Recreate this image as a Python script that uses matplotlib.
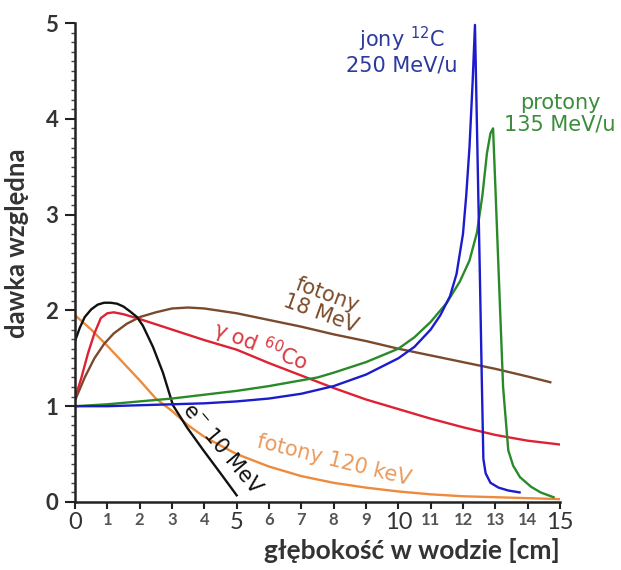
import matplotlib
matplotlib.use("Agg")
import matplotlib.pyplot as plt
from matplotlib.ticker import MultipleLocator, FixedLocator

# ---- data ----
carbon_x = [0, 1, 2, 3, 4, 5, 6, 7, 8, 9, 10, 10.5, 11, 11.3, 11.6, 11.8, 12.0, 12.1, 12.2,
            12.3, 12.37, 12.45, 12.52, 12.58, 12.63, 12.7, 12.85, 13.1, 13.4, 13.75]
carbon_y = [1.0, 1.0, 1.01, 1.02, 1.03, 1.05, 1.08, 1.13, 1.21, 1.33, 1.5, 1.62, 1.8, 1.95,
            2.15, 2.38, 2.8, 3.2, 3.7, 4.4, 4.98, 3.6, 2.4, 1.3, 0.45, 0.3, 0.2, 0.15, 0.12, 0.1]

proton_x = [0, 1, 2, 3, 4, 5, 6, 7, 7.5, 8, 9, 10, 10.5, 11, 11.5, 11.9, 12.2, 12.43, 12.6,
            12.74, 12.85, 12.93, 13.0, 13.1, 13.24, 13.4, 13.55, 13.76, 14.1, 14.4, 14.8]
proton_y = [1.0, 1.02, 1.05, 1.08, 1.12, 1.16, 1.21, 1.27, 1.3, 1.35, 1.46, 1.6, 1.72, 1.88,
            2.08, 2.3, 2.52, 2.81, 3.2, 3.64, 3.85, 3.9, 3.3, 2.42, 1.2, 0.54, 0.38, 0.26,
            0.16, 0.1, 0.05]

mv18_x = [0, 0.3, 0.6, 0.9, 1.2, 1.6, 2.0, 2.5, 3.0, 3.5, 4.0, 5.0, 6, 7, 8, 9, 10, 11, 12,
          13, 14, 14.7]
mv18_y = [1.06, 1.3, 1.5, 1.65, 1.76, 1.86, 1.93, 1.98, 2.02, 2.03, 2.02, 1.97, 1.9, 1.83,
          1.75, 1.68, 1.6, 1.53, 1.46, 1.39, 1.31, 1.25]

co60_x = [0, 0.2, 0.4, 0.6, 0.8, 1.0, 1.2, 1.5, 2.0, 3, 4, 5, 6, 7, 8, 9, 10, 11, 12, 13, 14, 15]
co60_y = [1.08, 1.3, 1.55, 1.76, 1.92, 1.97, 1.98, 1.96, 1.91, 1.8, 1.69, 1.59, 1.45, 1.32,
          1.19, 1.07, 0.97, 0.87, 0.78, 0.7, 0.64, 0.6]

elec_x = [0, 0.15, 0.3, 0.5, 0.7, 0.9, 1.1, 1.3, 1.5, 1.7, 1.92, 2.1, 2.41, 2.72, 3.03,
          3.46, 3.97, 4.5, 5.0]
elec_y = [1.68, 1.82, 1.93, 2.01, 2.06, 2.08, 2.08, 2.07, 2.04, 1.99, 1.93, 1.84, 1.62, 1.35,
          1.01, 0.78, 0.54, 0.3, 0.07]

kev120_x = [0, 0.5, 1, 1.5, 2, 2.5, 3, 3.5, 4, 5, 6, 7, 8, 9, 10, 11, 12, 13, 14, 15]
kev120_y = [1.95, 1.8, 1.63, 1.45, 1.27, 1.08, 0.95, 0.8, 0.68, 0.5, 0.37, 0.27, 0.2, 0.15,
            0.11, 0.08, 0.06, 0.05, 0.04, 0.03]

x_ticks = list(range(0, 16))
y_ticks = [0, 1, 2, 3, 4, 5]

# ---- figure ----
fig = plt.figure(figsize=(6.21, 5.70), dpi=100)
ax = fig.add_axes([75 / 621, 68 / 570, 485 / 621, 479 / 570])

lw = 1.7
ax.plot(kev120_x, kev120_y, color="#ee8a3c", lw=lw)
ax.plot(mv18_x, mv18_y, color="#7a4a2c", lw=lw)
ax.plot(co60_x, co60_y, color="#dd2233", lw=lw)
ax.plot(elec_x, elec_y, color="#111111", lw=lw)
ax.plot(proton_x, proton_y, color="#2a8a2a", lw=lw)
ax.plot(carbon_x, carbon_y, color="#1c1ccc", lw=lw)

ax.set_xlim(0, 15)
ax.set_ylim(0, 5)

for s in ["top", "right"]:
    ax.spines[s].set_visible(False)
for s in ["left", "bottom"]:
    ax.spines[s].set_linewidth(1.8)
    ax.spines[s].set_color("#222222")
ax.spines["left"].set_zorder(5)
ax.spines["bottom"].set_zorder(5)

# ticks
ax.yaxis.set_major_locator(FixedLocator(y_ticks))
ax.yaxis.set_minor_locator(MultipleLocator(0.1))
ax.xaxis.set_major_locator(FixedLocator(x_ticks))
ax.tick_params(axis="y", which="major", length=7, width=1.5, color="#222222", pad=5)
ax.tick_params(axis="y", which="minor", length=3, width=1.0, color="#444444")
ax.tick_params(axis="x", which="major", length=5, width=1.5, color="#222222", pad=2)

ax.set_yticklabels([str(v) for v in y_ticks], fontsize=16, fontweight="bold",
                   color="#333333", family="Lato")
xlabels = ax.set_xticklabels([str(v) for v in x_ticks], family="Lato", color="#333333")
for v, t in zip(x_ticks, xlabels):
    if v % 5 == 0:
        t.set_fontsize(17)
    else:
        t.set_fontsize(12)
        t.set_fontweight("bold")
        t.set_color("#555555")

ax.set_ylabel("dawka względna", fontsize=18.5, fontweight="bold", color="#333333",
              family="Lato")
ax.yaxis.set_label_coords(-0.095, 0.54)
ax.set_xlabel("głębokość w wodzie [cm]", fontsize=19, fontweight="bold", color="#333333",
              family="Lato", loc="right")
ax.xaxis.set_label_coords(1.0, -0.075)

# annotations
fs = 15
ax.text(10.1, 4.72, "jony $^{12}$C\n250 MeV/u", color="#2b3a9e", fontsize=fs,
        ha="center", va="center", linespacing=1.1)
ax.text(15.0, 4.05, "protony\n135 MeV/u", color="#3b8c3b", fontsize=fs,
        ha="center", va="center", linespacing=1.1, clip_on=False)
ax.text(7.7, 2.06, "fotony\n18 MeV", color="#7b4b2a", fontsize=fs, ha="center",
        va="center", rotation=-20, linespacing=1.0, rotation_mode="anchor")
ax.text(5.75, 1.63, "γ od $^{60}$Co", color="#d8383f", fontsize=fs, ha="center",
        va="center", rotation=-21, rotation_mode="anchor")
ax.text(4.55, 0.55, "e$^{-}$ 10 MeV", color="#111111", fontsize=fs, ha="center",
        va="center", rotation=-50, rotation_mode="anchor")
ax.text(8.0, 0.43, "fotony 120 keV", color="#ea9a5c", fontsize=fs, ha="center",
        va="center", rotation=-14, rotation_mode="anchor")

fig.savefig("out.png", dpi=100)
